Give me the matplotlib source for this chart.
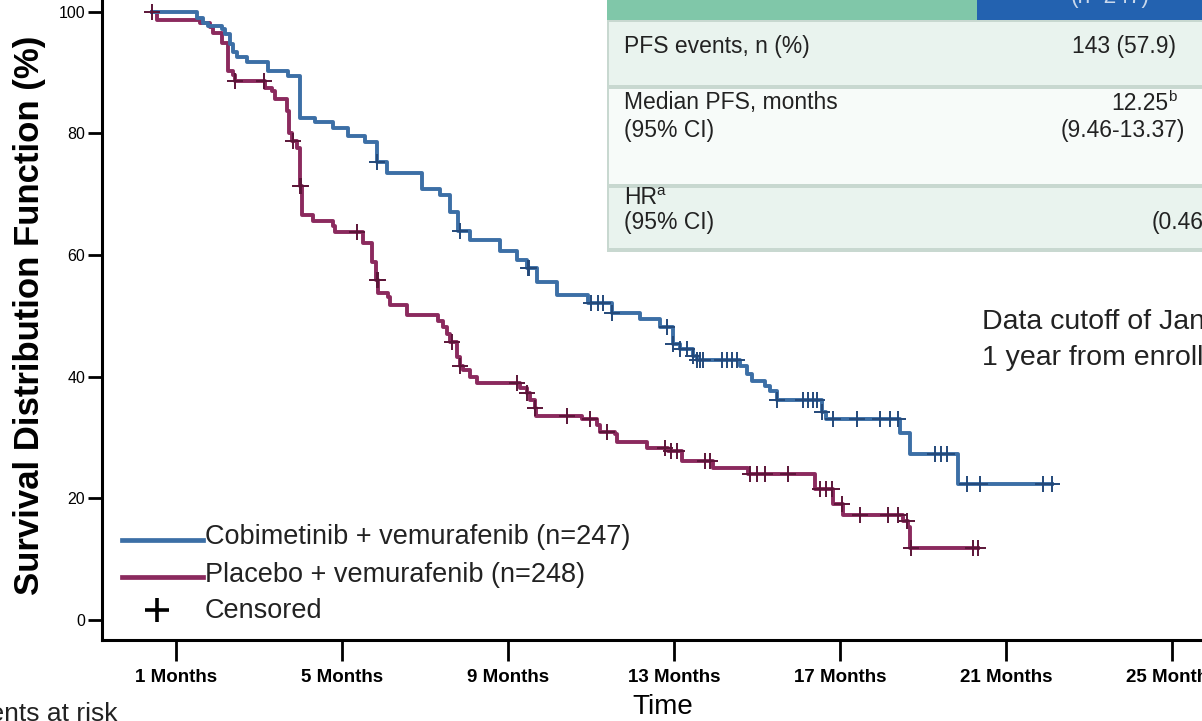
import numpy as np
import matplotlib
matplotlib.use("Agg")
import matplotlib.pyplot as plt
from matplotlib.patches import Rectangle
from matplotlib.lines import Line2D

# Kaplan-Meier PFS (months, % surviving)
blue_t = [0.42, 1.51, 1.65, 1.77, 2.11, 2.18, 2.30, 2.37, 2.47, 2.71,
          3.22, 3.70, 3.99, 4.35, 4.78, 5.14, 5.55, 5.84, 6.08, 6.93,
          7.36, 7.60, 7.80, 8.08, 8.80, 9.22, 9.46, 9.70, 10.18, 10.93,
          11.51, 12.18, 12.67, 12.98, 13.15, 13.46, 13.55, 14.59, 14.76, 14.88,
          15.19, 15.31, 15.48, 16.57, 16.66, 18.44, 18.69, 19.84]
blue_s = [100, 98.9, 98.2, 97.7, 97.2, 96.3, 94.6, 93.4, 92.5, 91.7,
          90.3, 89.4, 82.5, 81.8, 80.8, 79.6, 78.5, 75.2, 73.4, 70.9,
          69.8, 67.0, 64.0, 62.4, 60.7, 59.1, 57.8, 55.5, 53.4, 52.1,
          50.5, 49.4, 48.1, 45.4, 44.6, 43.4, 42.8, 41.8, 40.5, 39.2,
          38.4, 37.6, 36.2, 34.1, 33.1, 30.8, 27.3, 22.3]
blue_end = 22.11
blue_cens = [5.84, 7.84, 9.48, 9.50, 10.99, 11.16, 11.29, 11.51, 12.83, 12.98,
             13.15, 13.31, 13.46, 13.55, 13.63, 13.70, 14.16, 14.28, 14.40, 14.52,
             15.48, 16.11, 16.23, 16.35, 16.45, 16.57, 16.83, 17.41, 17.96, 18.20,
             18.40, 19.29, 19.43, 19.58, 20.06, 20.37, 21.89, 22.11]

purple_t = [0.42, 0.54, 1.58, 1.82, 1.89, 2.11, 2.25, 2.37, 2.42, 3.15,
            3.31, 3.39, 3.67, 3.72, 3.80, 3.92, 3.99, 4.04, 4.30, 4.78,
            4.83, 5.51, 5.72, 5.82, 5.87, 6.11, 6.16, 6.57, 7.31, 7.43,
            7.53, 7.60, 7.77, 7.84, 7.92, 8.08, 8.25, 9.29, 9.46, 9.53,
            9.65, 9.67, 10.78, 11.14, 11.22, 11.58, 11.63, 12.35, 12.86, 13.19,
            13.94, 14.78, 16.40, 16.83, 17.07, 18.52, 18.64, 18.69]
purple_s = [100, 98.6, 98.1, 97.4, 96.5, 94.8, 90.3, 89.6, 88.6, 87.4,
            86.9, 85.7, 83.6, 80.1, 78.8, 77.5, 71.4, 66.5, 65.6, 64.8,
            63.8, 62.0, 58.8, 55.9, 53.8, 53.1, 51.8, 50.2, 49.1, 48.1,
            47.0, 45.7, 43.3, 41.8, 41.0, 40.0, 38.9, 38.1, 37.3, 36.2,
            34.9, 33.6, 33.0, 32.0, 30.9, 30.6, 29.3, 28.2, 27.7, 26.1,
            25.0, 24.0, 21.6, 19.1, 17.2, 16.2, 15.2, 11.9]
purple_end = 20.33
purple_cens = [0.42, 2.42, 3.13, 3.82, 4.00, 4.02, 5.36, 5.84, 5.86, 7.65,
               7.84, 9.22, 9.46, 9.65, 10.42, 10.98, 11.39, 12.78, 12.93, 13.07,
               13.75, 13.87, 14.83, 15.00, 15.19, 15.75, 16.52, 16.66, 16.81, 17.05,
               17.48, 18.16, 18.40, 18.62, 18.72, 20.20, 20.33]

month_ticks = [1, 5, 9, 13, 17, 21, 25]
surv_ticks = [0, 20, 40, 60, 80, 100]

BLUE, BLUE_D = '#3c6fa6', '#24497a'
PURP, PURP_D = '#8b2a5e', '#5c1538'
FONT = ['Liberation Sans', 'DejaVu Sans']
INK = '#222222'

W, H = 1202, 721
def fx(px): return px / W
def fy(py): return 1 - py / H

fig = plt.figure(figsize=(12.02, 7.21), dpi=100)
ax = fig.add_axes([fx(102), fy(640), fx(1202) - fx(102), fy(0) - fy(640)])

def km(t, s, end, cens, col, dcol):
    t = np.array(t); s = np.array(s)
    ax.step(np.append(t, end), np.append(s, s[-1]), where='post', color=col, lw=2.8, zorder=3)
    c = np.array(cens)
    cy = s[np.searchsorted(t, c, side='right') - 1]
    ax.plot(c, cy, ls='none', marker='+', ms=11, mew=1.4, color=dcol, zorder=4)

km(purple_t, purple_s, purple_end, purple_cens, PURP, PURP_D)
km(blue_t, blue_s, blue_end, blue_cens, BLUE, BLUE_D)

ax.set_xlim(-0.78, 25.72)
ax.set_ylim(-3.3, 101.9)
ax.set_xticks(month_ticks)
ax.set_xticklabels([f"{m} Months" for m in month_ticks])
ax.set_yticks(surv_ticks)
for lab in ax.get_xticklabels():
    lab.set_fontfamily(FONT); lab.set_fontweight('bold'); lab.set_fontsize(13.5)
for lab in ax.get_yticklabels():
    lab.set_fontfamily(FONT); lab.set_fontsize(11.5)
ax.tick_params(axis='x', length=15, width=2, pad=6)
ax.tick_params(axis='y', length=10, width=2, pad=2)
for sp in ['top', 'right']:
    ax.spines[sp].set_visible(False)
for sp in ['left', 'bottom']:
    ax.spines[sp].set_linewidth(2.2)
ax.set_facecolor('none')

fig.text(fx(30), fy(315), 'Survival Distribution Function (%)', rotation=90,
         ha='center', va='center', fontsize=25, fontweight='bold', family=FONT)
fig.text(fx(663), fy(707), 'Time', ha='center', va='center', fontsize=20, family=FONT)
fig.text(fx(118), fy(714), 'Patients at risk', ha='right', va='center', fontsize=19, family=FONT, color=INK)

# legend
fig.add_artist(Line2D([fx(122), fx(203)], [fy(540), fy(540)], color=BLUE, lw=3.4))
fig.add_artist(Line2D([fx(122), fx(203)], [fy(577), fy(577)], color=PURP, lw=3.4))
fig.add_artist(Line2D([fx(157)], [fy(610)], marker='+', ms=17, mew=2.6, color='black'))
leg_txt = ['Cobimetinib + vemurafenib (n=247)', 'Placebo + vemurafenib (n=248)', 'Censored']
for txt, py in zip(leg_txt, [537, 575, 611]):
    fig.text(fx(205), fy(py), txt, ha='left', va='center', fontsize=19.5, family=FONT, color=INK)

# table (top right, cut by the crop)
def rect(x0, y0, x1, y1, col):
    fig.add_artist(Rectangle((fx(x0), fy(y1)), (x1 - x0) / W, (y1 - y0) / H,
                             transform=fig.transFigure, color=col, lw=0, zorder=1))

rect(607, 0, 977, 20, '#80c7a9')
rect(977, 0, 1202, 20, '#2362b0')
rect(607, 20, 1202, 252, '#c8d8d0')
rect(609, 22, 1202, 85, '#e9f3ee')
rect(609, 89, 1202, 184, '#f7fbf9')
rect(609, 188, 1202, 248, '#e9f3ee')

tkw = dict(fontsize=16.5, family=FONT, color=INK, va='center')
fig.text(fx(1110), fy(-4), '(n=247)', ha='center', fontsize=16.5, family=FONT, color='#c9d8ec', va='center')
fig.text(fx(624), fy(47), 'PFS events, n (%)', ha='left', **tkw)
fig.text(fx(1124), fy(47), '143 (57.9)', ha='center', **tkw)
fig.text(fx(624), fy(103), 'Median PFS, months', ha='left', **tkw)
fig.text(fx(624), fy(131), '(95% CI)', ha='left', **tkw)
fig.text(fx(1168), fy(103), '12.25', ha='right', **tkw)
fig.text(fx(1168), fy(97), 'b', ha='left', fontsize=11, family=FONT, color=INK, va='center')
fig.text(fx(1123), fy(131), '(9.46-13.37)', ha='center', **tkw)
fig.text(fx(624), fy(197), 'HR', ha='left', **tkw)
fig.text(fx(656), fy(191), 'a', ha='left', fontsize=11, family=FONT, color=INK, va='center')
fig.text(fx(624), fy(223), '(95% CI)', ha='left', **tkw)
fig.text(fx(1152), fy(223), '(0.46-0.71)', ha='left', **tkw)

fig.text(fx(982), fy(322), 'Data cutoff of January 16, 2015', ha='left', va='center',
         fontsize=20.5, family=FONT, color=INK)
fig.text(fx(982), fy(358), '1 year from enrollment of last patient', ha='left', va='center',
         fontsize=20.5, family=FONT, color=INK)

fig.savefig('out.png', dpi=100)
